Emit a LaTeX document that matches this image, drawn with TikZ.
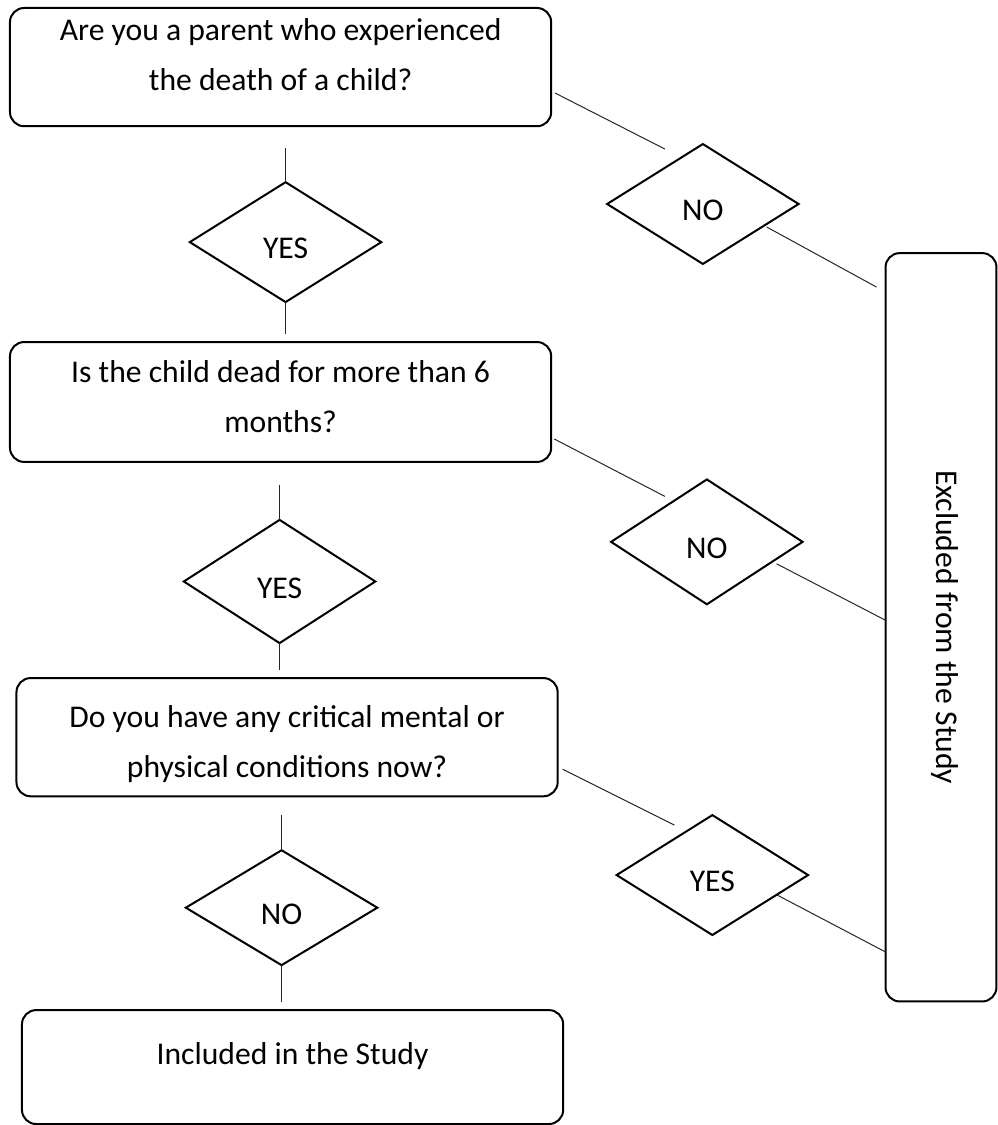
\documentclass[tikz,border=0pt]{standalone}
\usepackage{fontspec}
\setmainfont{Carlito}
\usetikzlibrary{shapes,positioning,calc}

\begin{document}
\begin{tikzpicture}[node distance=30pt, thick,
		box/.style={rectangle, draw, rounded corners=8.5pt, line width=1.2pt, minimum width=325pt, minimum height=71pt, inner sep=0pt, outer sep=0pt, align=center, text depth=0pt},
		choice/.style={diamond, draw, line width=1.2pt, minimum width=115pt, minimum height=72pt, inner sep=0pt, outer sep=0pt, text height=20pt, text depth=0pt},
		link/.style={line width=0.6pt, black!85},
		font=\fontsize{19pt}{30pt}\selectfont]

		\node [box, text height=28pt] (parent) {Are you a parent who experienced\\the death of a child?};
		\node [choice, below=33.6pt of parent, xshift=3pt] (yes1) {YES};
		\node [box, text height=36.6pt, minimum height=72pt, below=24pt of yes1, xshift=-3pt] (dead) {Is the child dead for more than 6\\months?};
		\node [choice, minimum height=74pt, below=34.8pt of dead, xshift=-0.6pt] (yes2) {YES};
		\node [box, text height=48.6pt, below=21pt of yes2, xshift=4.5pt] (health) {Do you have any critical mental or\\physical conditions now?};
		\node [choice, minimum height=69pt, below=32.4pt of health, xshift=-3.3pt] (no3) {NO};
		\node [box, text height=0pt, text depth=3pt, minimum height=68.4pt, below=27pt of no3, xshift=6.6pt] (included) {Included in the Study};

		\node [choice, right=33.6pt of parent, yshift=-82.2pt] (no1) {NO};
		\node [choice, minimum height=75pt, right=36pt of dead, yshift=-84pt] (no2) {NO};
		\node [choice, right=35.4pt of health, yshift=-82.8pt] (yes3) {YES};
		\node [box, text depth=, minimum width=66.6pt, minimum height=449.4pt, right=49.8pt of no2, yshift=-51.3pt] (excluded) {\hspace{5pt}\rotatebox{-90}{Excluded from the Study}};

		\useasboundingbox ([shift={(-6pt,4.8pt)}]parent.north west) rectangle ++(598.8pt,-675pt);

		% left column
		\draw [link, shorten <=13.2pt] (parent.south -| yes1.north) -- (yes1.north);
		\draw [link, shorten >=4.8pt] (yes1.south) -- (yes1.south |- dead.north);
		\draw [link, shorten <=13.8pt] (dead.south -| yes2.north) -- (yes2.north);
		\draw [link, shorten >=4.8pt] (yes2.south) -- (yes2.south |- health.north);
		\draw [link, shorten <=11.4pt] (health.south -| no3.north) -- (no3.north);
		\draw [link, shorten >=4.8pt] (no3.south) -- (no3.south |- included.north);

		% right side
		\draw [link] ([shift={(2.4pt,-15.6pt)}]parent.east) -- ([shift={(-22.8pt,-3pt)}]no1.north);
		\draw [link] ([shift={(-19.2pt,-13.8pt)}]no1.east) -- ([shift={(-5.4pt,204.3pt)}]excluded.west);
		\draw [link] ([shift={(1.8pt,-22.2pt)}]dead.east) -- ([shift={(-25.2pt,-10.2pt)}]no2.north);
		\draw [link] ([shift={(-15.6pt,-13.2pt)}]no2.east) -- ([shift={(0.6pt,3.9pt)}]excluded.west);
		\draw [link] ([shift={(3pt,-19.2pt)}]health.east) -- ([shift={(-22.8pt,-6pt)}]yes3.north);
		\draw [link] ([shift={(-18.6pt,-12pt)}]yes3.east) -- ([shift={(0.6pt,-195.3pt)}]excluded.west);

	\end{tikzpicture}
\end{document}
